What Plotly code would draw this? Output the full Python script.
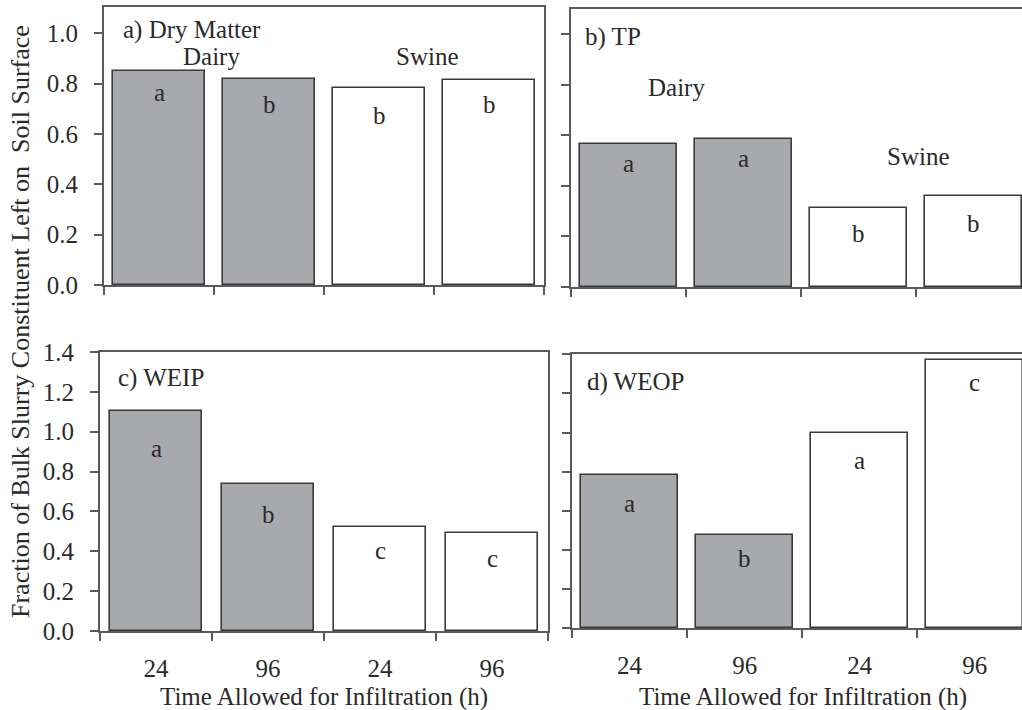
import plotly.graph_objects as go

# ---- data ----
times = ["24", "96", "24", "96"]
manure = ["Dairy", "Dairy", "Swine", "Swine"]
dry_matter = [0.852, 0.817, 0.782, 0.816]
tp = [0.564, 0.587, 0.314, 0.358]
weip = [1.104, 0.736, 0.520, 0.490]
weop = [0.781, 0.478, 1.000, 1.372]
letters_dm = ["a", "b", "b", "b"]
letters_tp = ["a", "a", "b", "b"]
letters_weip = ["a", "b", "c", "c"]
letters_weop = ["a", "b", "a", "c"]
panel_titles = ["a) Dry Matter", "b) TP", "c) WEIP", "d) WEOP"]
y_title = "Fraction of Bulk Slurry Constituent Left on  Soil Surface"
x_title = "Time Allowed for Infiltration (h)"

W, H = 1022, 710
FONT = "Liberation Serif"
FS = 25
TXT = "#2a2a2a"
AX = "#5a5a5a"
FILL = {"Dairy": "#a7a9ac", "Swine": "#ffffff"}
EDGE = "#3a3a3a"

def px_x(p):
    return p / W

def px_y(p):
    return 1 - p / H

panels = [
    dict(v=dry_matter, L=letters_dm, xd=(104, 544), yd=(285, 7), yr=[0, 1.105], xr=3.5,
         labs=True, off=[22, 25, 27, 25], wide=0.84),
    dict(v=tp, L=letters_tp, xd=(571, 1022), yd=(287, 9), yr=[0, 1.099], xr=3.42,
         labs=False, off=[19, 20, 26, 27], wide=0.84),
    dict(v=weip, L=letters_weip, xd=(100, 548), yd=(631, 352), yr=[0, 1.4], xr=3.5,
         labs=True, off=[38, 30, 23, 25], wide=0.83),
    dict(v=weop, L=letters_weop, xd=(572, 1022), yd=(628, 354), yr=[0, 1.402], xr=3.41,
         labs=False, off=[28, 24, 28, 23], wide=0.84),
]

fig = go.Figure()
annotations = []
xs = [0, 1, 2, 3]
for i, p in enumerate(panels):
    n = "" if i == 0 else str(i + 1)
    fig.add_trace(go.Bar(
        x=xs, y=p["v"], width=p["wide"],
        marker=dict(color=[FILL[m] for m in manure], line=dict(color=EDGE, width=1.6)),
        xaxis="x" + n, yaxis="y" + n, showlegend=False, hoverinfo="skip"))
    right_frame = i in (0, 2)
    fig.update_layout(**{
        "xaxis" + n: dict(
            domain=[px_x(p["xd"][0]), px_x(p["xd"][1])],
            range=[-0.5, p["xr"]], anchor="y" + n, automargin=False,
            tickmode="array", tickvals=xs, ticktext=times,
            showticklabels=(i >= 2), ticks="", ticklabelstandoff=14,
            minor=dict(tickmode="array", tickvals=[-0.5, 0.5, 1.5, 2.5, 3.5],
                       ticks="outside", ticklen=8, tickwidth=1.5, tickcolor=AX),
            showline=True, linecolor=AX, linewidth=1.8, mirror=True,
            showgrid=False, zeroline=False, fixedrange=True,
            tickfont=dict(family=FONT, size=FS, color=TXT)),
        "yaxis" + n: dict(
            domain=[px_y(p["yd"][0]), px_y(p["yd"][1])],
            range=p["yr"], anchor="x" + n, automargin=False,
            tickmode="linear", tick0=0, dtick=0.2, tickformat=".1f",
            showticklabels=p["labs"], ticks="outside", ticklen=8, tickwidth=1.5,
            tickcolor=AX, ticklabelstandoff=11,
            showline=True, linecolor=AX, linewidth=1.8, mirror=right_frame,
            showgrid=False, zeroline=False, fixedrange=True,
            tickfont=dict(family=FONT, size=FS, color=TXT)),
    })
    for j in range(4):
        annotations.append(dict(
            x=xs[j], y=p["v"][j], xref="x" + n, yref="y" + n,
            text=p["L"][j], showarrow=False, xanchor="center", yanchor="middle",
            yshift=-p["off"][j], font=dict(family=FONT, size=FS, color=TXT)))

title_pos = [(121, 30), (583, 37), (116, 378), (585, 382)]
for t, (xp, yp) in zip(panel_titles, title_pos):
    annotations.append(dict(x=px_x(xp), y=px_y(yp), xref="paper", yref="paper",
                            text=t, showarrow=False, xanchor="left", yanchor="middle",
                            font=dict(family=FONT, size=FS, color=TXT)))

groups = [
    ("Dairy", 0.48, 0.907, ""), ("Swine", 2.44, 0.907, ""),
    ("Dairy", 0.42, 0.787, "2"), ("Swine", 2.52, 0.514, "2"),
]
for t, gx, gy, n in groups:
    annotations.append(dict(x=gx, y=gy, xref="x" + n, yref="y" + n, text=t,
                            showarrow=False, xanchor="center", yanchor="middle",
                            font=dict(family=FONT, size=FS, color=TXT)))

annotations.append(dict(x=px_x(20), y=px_y(322), xref="paper", yref="paper",
                        text=y_title, textangle=-90, showarrow=False,
                        xanchor="center", yanchor="middle",
                        font=dict(family=FONT, size=26, color=TXT)))
for cx in (324, 803):
    annotations.append(dict(x=px_x(cx), y=px_y(697), xref="paper", yref="paper",
                            text=x_title, showarrow=False,
                            xanchor="center", yanchor="middle",
                            font=dict(family=FONT, size=FS, color=TXT)))

fig.update_layout(
    width=W, height=H, margin=dict(l=0, r=0, t=0, b=0, autoexpand=False),
    paper_bgcolor="white", plot_bgcolor="white",
    bargap=0, annotations=annotations, showlegend=False,
)

fig.write_html("out.html", config={"displayModeBar": False},
               post_script="document.body.style.margin='0px';document.body.style.overflow='hidden';")
